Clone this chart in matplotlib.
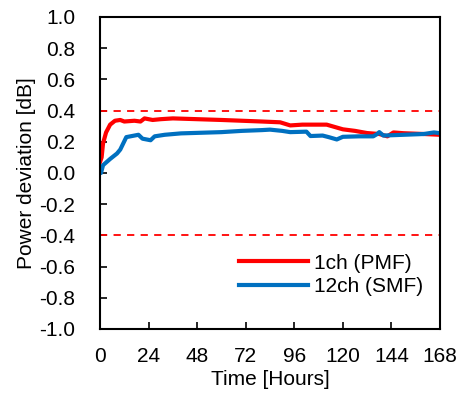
import matplotlib.pyplot as plt

plt.rcParams['font.family'] = ['Liberation Sans', 'DejaVu Sans']

# 1ch (PMF)
pmf_t = [0, 0.8, 1.5, 3, 5, 7.4, 10, 12, 17, 20, 22, 26, 30, 36, 48, 60, 70, 80,
         89, 94, 100, 105, 112, 116, 120, 126, 132, 138, 142, 145, 150, 160, 168]
pmf_db = [0.07, 0.10, 0.19, 0.26, 0.31, 0.335, 0.34, 0.33, 0.335, 0.33, 0.35, 0.34,
          0.345, 0.35, 0.345, 0.34, 0.335, 0.33, 0.325, 0.305, 0.31, 0.31, 0.31,
          0.295, 0.28, 0.27, 0.256, 0.25, 0.235, 0.26, 0.255, 0.25, 0.245]

# 12ch (SMF)
smf_t = [0, 0.5, 1.5, 5, 8.4, 10, 11.5, 13, 17, 19, 21, 23, 25, 27, 32, 40, 50,
         60, 70, 80, 84, 90, 94, 102, 104, 110, 113, 117, 120, 128, 135, 137, 138,
         140, 150, 160, 165, 168]
smf_db = [0.0, 0.0, 0.05, 0.09, 0.125, 0.15, 0.19, 0.23, 0.24, 0.245, 0.22, 0.215,
          0.21, 0.235, 0.245, 0.254, 0.258, 0.262, 0.27, 0.275, 0.278, 0.27, 0.262,
          0.265, 0.237, 0.24, 0.23, 0.215, 0.232, 0.235, 0.235, 0.25, 0.262, 0.24,
          0.245, 0.25, 0.26, 0.255]

limit_db = 0.4
xticks = [0, 24, 48, 72, 96, 120, 144, 168]
yticks = [-1.0, -0.8, -0.6, -0.4, -0.2, 0.0, 0.2, 0.4, 0.6, 0.8, 1.0]

fs = 15
fig = plt.figure(figsize=(4.65, 3.96), dpi=100)
ax = fig.add_axes([100 / 465, 1 - 329 / 396, 340 / 465, 312 / 396])

ax.axhline(limit_db, color='#FF0000', lw=1.3, ls=(0, (4, 3.5)))
ax.axhline(-limit_db, color='#FF0000', lw=1.3, ls=(0, (4, 3.5)))
ax.plot(pmf_t, pmf_db, color='#FF0000', lw=3, label='1ch (PMF)', solid_joinstyle='round')
ax.plot(smf_t, smf_db, color='#0070C0', lw=3, label='12ch (SMF)', solid_joinstyle='round')

ax.set_xlim(0, 168)
ax.set_ylim(-1.0, 1.0)
ax.set_xticks(xticks)
ax.set_yticks(yticks)
ax.set_yticklabels(['%.1f' % v for v in yticks])
ax.tick_params(direction='in', length=5, width=1.2, labelsize=fs)
ax.tick_params(axis='x', pad=13)
ax.tick_params(axis='y', pad=18)
for s in ax.spines.values():
    s.set_linewidth(1.5)

ax.set_xlabel('Time [Hours]', fontsize=fs, labelpad=3)
ax.set_ylabel('Power deviation [dB]', fontsize=fs, labelpad=2)

ax.legend(loc='upper left', bbox_to_anchor=(0.384, 0.268), frameon=False, fontsize=fs,
          handlelength=3.3, handletextpad=0.3, labelspacing=0.22, borderaxespad=0.0)

fig.savefig('out.png', dpi=100)
